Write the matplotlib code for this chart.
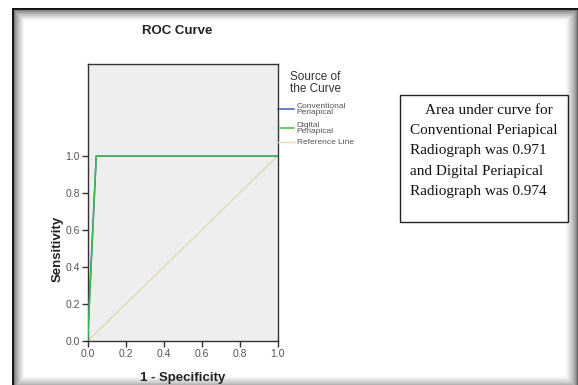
import numpy as np
import matplotlib.pyplot as plt
from matplotlib.patches import Rectangle
from matplotlib.lines import Line2D

# ROC points
conv_fpr = [0.0, 0.01, 0.045, 1.0]
conv_tpr = [0.0, 0.25, 1.0, 1.0]
dig_fpr = [0.0, 0.045, 1.0]
dig_tpr = [0.0, 1.0, 1.0]
ref_x = [0.0, 1.0]
ref_y = [0.0, 1.0]

labels = ['Conventional\nPeriapical', 'Digital\nPeriapical', 'Reference Line']
ticks = [0.0, 0.2, 0.4, 0.6, 0.8, 1.0]
note_lines = ['Area under curve for', 'Conventional Periapical',
              'Radiograph was 0.971', 'and Digital Periapical',
              'Radiograph was 0.974']

W, H = 578, 385
plt.rcParams['font.family'] = ['Liberation Sans', 'DejaVu Sans']
fig = plt.figure(figsize=(W / 100, H / 100), dpi=100)

# background frame with the soft shadow
bg = fig.add_axes([0, 0, 1, 1], zorder=-5)
img = np.ones((H, W))
xs = np.arange(W)
ys = np.arange(H)
left = np.clip((xs - 13) / 11.0, 0, 1) ** 0.7 * 0.6 + 0.4
top = np.clip((ys - 9) / 11.0, 0, 1) ** 0.7 * 0.6 + 0.4
right = np.clip((577 - xs) / 12.0, 0, 1) ** 0.6 * 0.6 + 0.4
bottom = np.clip((385 - ys) / 10.0, 0, 1) ** 0.6 * 0.4 + 0.6
img = np.minimum.reduce([img, left[None, :].repeat(H, 0), top[:, None].repeat(W, 1),
                         right[None, :].repeat(H, 0), bottom[:, None].repeat(W, 1)])
img[:, :12] = 1
img[:8, :] = 1
img[8:10, 12:] = 0.08
img[8:, 12:14] = 0.08
bg.imshow(img, cmap='gray', vmin=0, vmax=1, extent=(0, W, H, 0), aspect='auto',
          interpolation='bilinear')
bg.set_xlim(0, W)
bg.set_ylim(H, 0)
bg.axis('off')

ax = fig.add_axes([87.7 / W, 1 - 341 / H, 189.8 / W, 277.3 / H])
ax.set_facecolor('#eeeeee')
l1, = ax.plot(conv_fpr, conv_tpr, color='#3e5cb4', lw=1.1, zorder=3)
l2, = ax.plot(dig_fpr, dig_tpr, color='#3dbb4f', lw=1.1, zorder=4)
l3, = ax.plot(ref_x, ref_y, color='#e2dab0', lw=1.0, zorder=2)
ax.set_xlim(0, 1)
ax.set_ylim(0, 1.5)
ax.set_xticks(ticks)
ax.set_yticks(ticks)
ax.set_xticklabels(['%.1f' % t for t in ticks])
ax.set_yticklabels(['%.1f' % t for t in ticks])
ax.tick_params(length=4, width=1, color='#333333', labelsize=7.5,
               labelcolor='#555555', pad=1.5)
for s in ax.spines.values():
    s.set_color('#333333')
    s.set_linewidth(1.0)

ax.set_xlabel('1 - Specificity', fontsize=9.5, fontweight='bold', color='#222222')
ax.xaxis.set_label_coords(0.5, -0.113)
ax.set_ylabel('Sensitivity', fontsize=9.5, fontweight='bold', color='#222222')
ax.yaxis.set_label_coords(-0.128, 0.5 / 1.5)
fig.text(177 / W, 1 - 31 / H, 'ROC Curve', ha='center', va='center',
         fontsize=9.5, fontweight='bold', color='#222222')

# legend, laid out by hand like the SPSS one
fig.text(290.5 / W, 1 - 83 / H, 'Source of\nthe Curve', ha='left', va='center',
         fontsize=8.5, color='#333333', linespacing=1.05)
for line, lab, yy in zip([l1, l2, l3], labels, [109.3, 128.3, 142.0]):
    fig.add_artist(Line2D([277.7 / W, 293.5 / W], [1 - yy / H] * 2,
                          transform=fig.transFigure, color=line.get_color(),
                          lw=line.get_linewidth()))
    fig.text(296.7 / W, 1 - yy / H, lab, ha='left', va='center', fontsize=6,
             color='#555555', linespacing=0.85)

# note box
fig.add_artist(Rectangle((400 / W, 1 - 222 / H), 168 / W, 127 / H,
                         transform=fig.transFigure, fill=False,
                         edgecolor='#222222', lw=1.0))
serif = ['Liberation Serif', 'DejaVu Serif']
fig.text(489 / W, 1 - 110 / H, note_lines[0], ha='center', va='center',
         fontsize=11, family=serif, color='#111111')
for i, line in enumerate(note_lines[1:]):
    fig.text(410.5 / W, 1 - (130.5 + 20.3 * i) / H, line, ha='left', va='center',
             fontsize=11, family=serif, color='#111111')

fig.savefig('out.png', dpi=100)
